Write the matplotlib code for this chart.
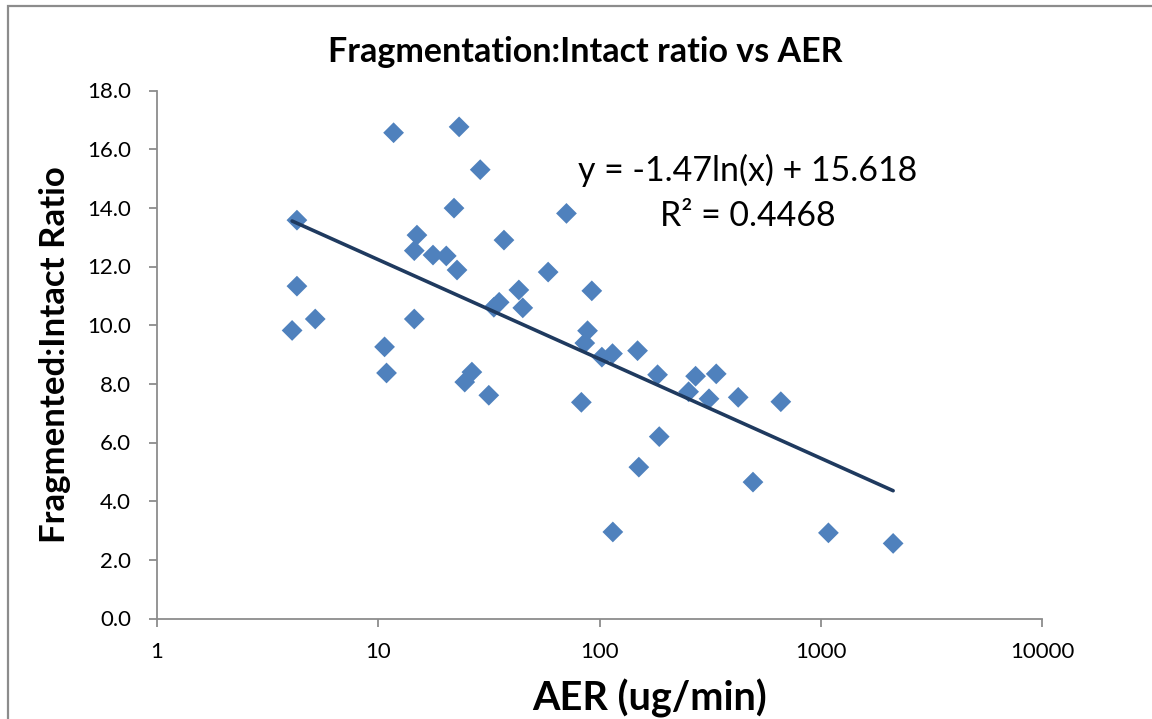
import numpy as np
import matplotlib
matplotlib.use("Agg")
import matplotlib.pyplot as plt
from matplotlib.patches import Rectangle

plt.rcParams['font.family'] = ['Lato', 'DejaVu Sans']

# Data
aer = [4.08, 4.29, 4.29, 5.19, 10.68, 10.9, 11.73, 14.55, 14.55, 14.96,
       17.68, 20.3, 22.0, 22.7, 23.2, 24.6, 26.5, 28.9, 31.6, 33.3,
       35.2, 37.0, 43.2, 45.0, 58.6, 70.9, 82.8, 85.8, 88.3, 92.3,
       102.5, 114.5, 114.9, 148.6, 150.6, 183, 186.2, 252.8, 271.8, 312.6,
       337, 423.6, 494, 660, 1083, 2124]
ratio = [9.82, 13.58, 11.33, 10.21, 9.26, 8.37, 16.56, 10.21, 12.54, 13.07,
         12.39, 12.36, 13.99, 11.88, 16.76, 8.06, 8.40, 15.30, 7.61, 10.61,
         10.78, 12.90, 11.20, 10.59, 11.81, 13.81, 7.37, 9.39, 9.81, 11.17,
         8.91, 9.03, 2.95, 9.13, 5.16, 8.31, 6.20, 7.73, 8.26, 7.49,
         8.34, 7.54, 4.65, 7.39, 2.92, 2.56]

trend_slope = -1.47
trend_intercept = 15.618
equation_text = "y = -1.47ln(x) + 15.618"
r2_text = "R² = 0.4468"

title = "Fragmentation:Intact ratio vs AER"
xlabel = "AER (ug/min)"
ylabel = "Fragmented:Intact Ratio"
yticks = np.arange(0, 18.1, 2.0)
xticks = [1, 10, 100, 1000, 10000]

W, H = 1152, 719
fig = plt.figure(figsize=(W / 100, H / 100), dpi=100)
ax = fig.add_axes([157 / W, (H - 618.5) / H, (1042 - 157) / W, (618.5 - 90.5) / H])

marker_color = '#4F81BD'
ax.scatter(aer, ratio, marker='D', s=112, color=marker_color, edgecolors='none', zorder=3)

xs = np.geomspace(min(aer), max(aer), 200)
ax.plot(xs, trend_slope * np.log(xs) + trend_intercept, color='#1F3A5F', lw=2.6,
        solid_capstyle='round', zorder=4)

ax.set_xscale('log')
ax.set_xlim(1, 10000)
ax.set_ylim(0, 18)
ax.set_xticks(xticks)
ax.set_xticklabels([str(t) for t in xticks])
ax.xaxis.set_minor_locator(matplotlib.ticker.NullLocator())
ax.set_yticks(yticks)
ax.set_yticklabels([f"{t:.1f}" for t in yticks])

for s in ['top', 'right']:
    ax.spines[s].set_visible(False)
for s in ['left', 'bottom']:
    ax.spines[s].set_color('#8C8C8C')
    ax.spines[s].set_linewidth(1.3)
ax.tick_params(axis='both', direction='out', length=5.8, width=1.3, color='#8C8C8C',
               labelsize=16, labelcolor='black')
ax.tick_params(axis='y', pad=13)
ax.tick_params(axis='x', pad=11)

fig.text(585 / W, (H - 52) / H, title, fontsize=24.5, fontweight='bold', ha='center', va='center')
fig.text(650 / W, (H - 698) / H, xlabel, fontsize=28.5, fontweight='bold', ha='center', va='center')
fig.text(55 / W, (H - 355) / H, ylabel, fontsize=25, fontweight='bold', ha='center', va='center',
         rotation=90)

fig.text(748 / W, (H - 170) / H, equation_text, fontsize=24.4, ha='center', va='center')
fig.text(748 / W, (H - 216) / H, r2_text, fontsize=24.4, ha='center', va='center')

fig.patches.append(Rectangle((8 / W, -0.01), 1.2, 1.0 - 6 / H + 0.01, transform=fig.transFigure,
                             fill=False, edgecolor='#8C8C8C', lw=1.6))

fig.savefig('out.png', dpi=100)
